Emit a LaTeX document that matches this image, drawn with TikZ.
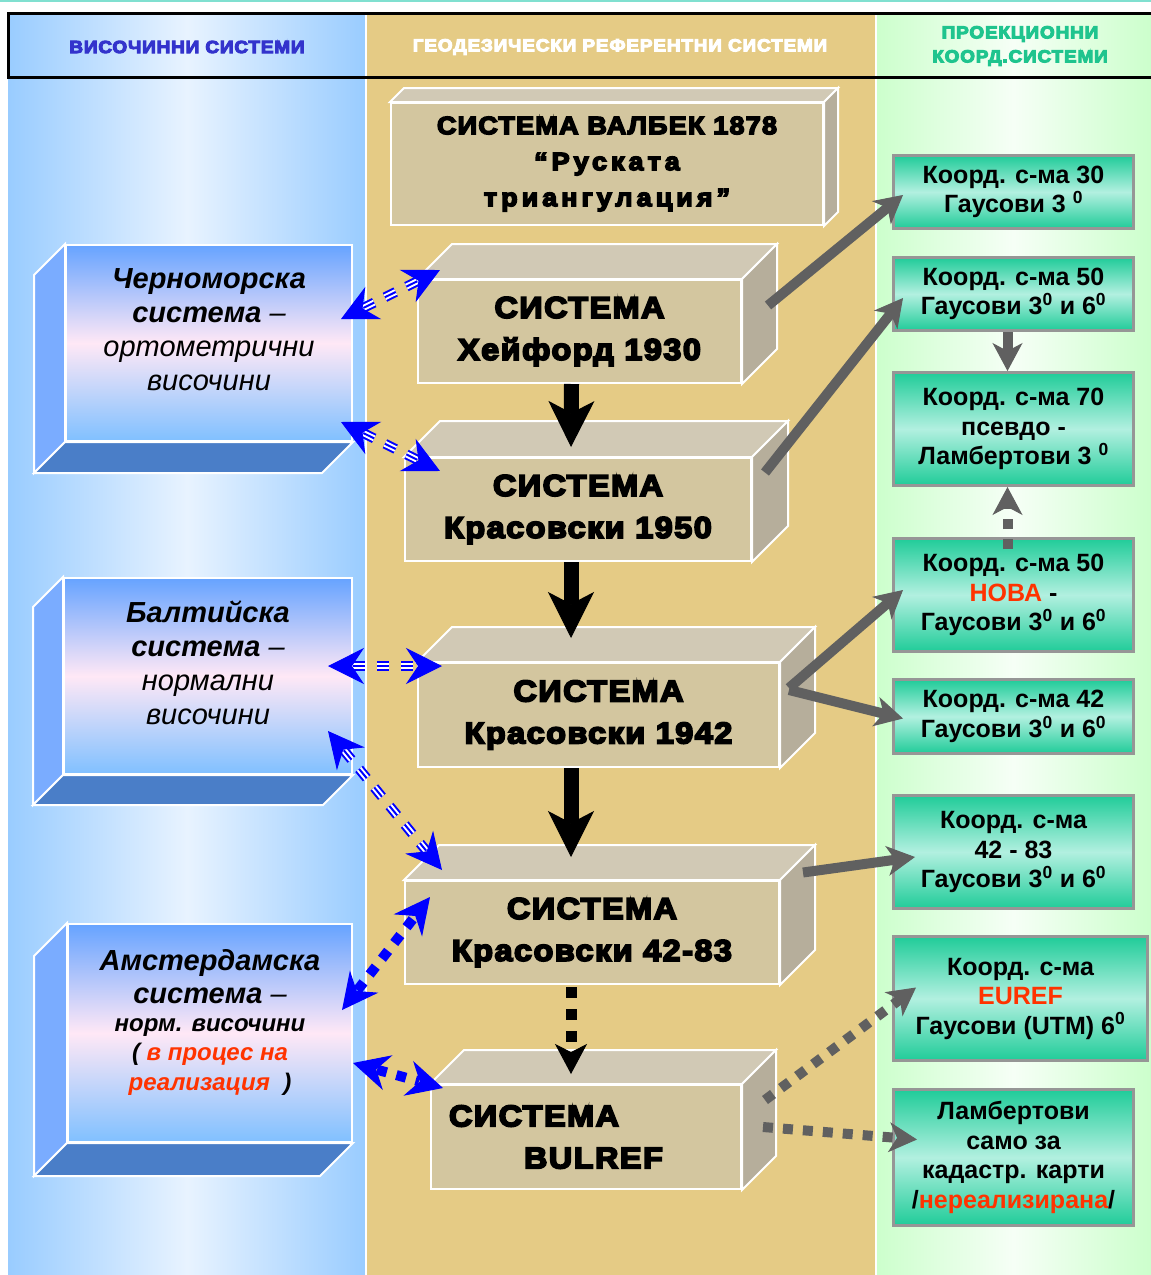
\documentclass[tikz,border=0pt]{standalone}
\usepackage{fontspec}
\setmainfont{Liberation Sans}
\newfontfamily\heavyfont[FakeBold=6,FakeStretch=1.08,LetterSpace=5]{Liberation Sans Bold}
\usetikzlibrary{arrows.meta,positioning,decorations.markings}

\definecolor{colblue}{RGB}{153,204,255}
\definecolor{colbluemid}{RGB}{232,243,255}
\definecolor{coltan}{RGB}{229,203,133}
\definecolor{colgreen}{RGB}{204,255,204}
\definecolor{colgreenmid}{RGB}{246,255,246}
\definecolor{geofront}{RGB}{211,198,159}
\definecolor{geotop}{RGB}{209,201,181}
\definecolor{geoside}{RGB}{182,174,155}
\definecolor{hfront}{RGB}{102,163,255}
\definecolor{hmid}{RGB}{255,232,246}
\definecolor{hbottom}{RGB}{128,192,255}
\definecolor{hside}{RGB}{122,172,255}
\definecolor{hfloor}{RGB}{74,126,200}
\definecolor{projtop}{RGB}{32,204,153}
\definecolor{projmid}{RGB}{178,240,224}
\definecolor{projedge}{RGB}{150,150,150}
\definecolor{arrgray}{RGB}{96,96,96}
\definecolor{hot}{RGB}{255,51,0}
\definecolor{headblue}{RGB}{51,51,204}
\definecolor{headgreen}{RGB}{31,196,142}
\definecolor{topline}{RGB}{128,224,208}

\tikzset{
  geobox/.style={draw=white, line width=2pt, fill=geofront, inner sep=0pt, align=center,
    font=\heavyfont\fontsize{30}{42}\selectfont},
  hgtbox/.style={draw=white, line width=2pt, top color=hfront, bottom color=hbottom,
    middle color=hmid, inner sep=0pt, align=center, font=\itshape\fontsize{29}{34}\selectfont},
  projbox/.style={draw=projedge, line width=3pt, top color=projtop, bottom color=projtop,
    middle color=projmid, minimum width=240pt, inner sep=0pt, align=center,
    font=\bfseries\fontsize{25}{29.5}\selectfont},
  headtext/.style={font=\heavyfont\fontsize{17.5}{24}\selectfont, align=center},
  % blue links between height and reference systems
  link tips/.style={postaction={decorate,decoration={markings,
    mark=at position 0 with {\arrowreversed[blue,solid,line width=1pt]{Stealth[length=36pt,width=36pt,inset=12pt]}},
    mark=at position 1 with {\arrow[blue,solid,line width=1pt]{Stealth[length=36pt,width=36pt,inset=12pt]}}}}},
  striped link/.style={draw=blue, line width=10pt, dash pattern=on 12pt off 12pt,
    shorten <=25pt, shorten >=25pt,
    postaction={draw=white, line width=6pt}, postaction={draw=blue, line width=2pt}, link tips},
  dotted link/.style={draw=blue, line width=10pt, dash pattern=on 10pt off 10pt,
    shorten <=25pt, shorten >=25pt, link tips},
  % arrows
  chainlink/.style={line width=15pt, -{Stealth[length=46pt,width=46pt,inset=12pt,line width=1pt]}},
  chaindotted/.style={line width=11pt, dash pattern=on 11pt off 11pt,
    -{Stealth[length=30pt,width=32pt,inset=8pt,line width=1pt]}},
  projlink/.style={draw=arrgray, line width=10pt, -{Stealth[length=28pt,width=30pt,inset=8pt,line width=1pt]}},
  projdotted/.style={projlink, dash pattern=on 10pt off 10pt},
}

\newcommand{\geofaces}[2]{%
  \filldraw[fill=geotop, draw=white, line width=2pt]
    (#1.north west) -- ++(#2,-#2) -- ([xshift=#2pt,yshift=#2pt]#1.north east) -- (#1.north east) -- cycle;
  \filldraw[fill=geoside, draw=white, line width=2pt]
    (#1.north east) -- ([xshift=#2pt,yshift=#2pt]#1.north east)
    -- ([xshift=#2pt,yshift=#2pt]#1.south east) -- (#1.south east) -- cycle;
}
\newcommand{\hgtfaces}[2]{%
  \filldraw[fill=hside, draw=white, line width=2pt]
    (#1.north west) -- ++(-#2,#2) -- ([xshift=-#2pt,yshift=-#2pt]#1.south west) -- (#1.south west) -- cycle;
  \filldraw[fill=hfloor, draw=white, line width=2pt]
    (#1.south west) -- ([xshift=-#2pt,yshift=-#2pt]#1.south west)
    -- ([xshift=-#2pt,yshift=-#2pt]#1.south east) -- (#1.south east) -- cycle;
}

\begin{document}
\begin{tikzpicture}[x=1pt, y=-1pt]
\useasboundingbox (0,0) rectangle (1151,1275);

% columns
\fill[white] (0,0) rectangle (1151,1275);
\draw[topline, line width=1.5pt] (0,0.8) -- (1151,0.8);
\fill[left color=colblue, right color=colblue, middle color=colbluemid] (8,13) rectangle (366,1275);
\fill[coltan] (366,13) rectangle (876,1275);
\fill[left color=colgreen, right color=colgreen, middle color=colgreenmid] (876,13) rectangle (1151,1275);
\draw[white, line width=2pt] (366,13) -- (366,1275) (876,13) -- (876,1275);
\draw[black, line width=3pt] (8,13) rectangle (1160,77);

\node[headtext, text=headblue] (hdheight) at (187,47) {ВИСОЧИННИ СИСТЕМИ};
\node[headtext, text=white] (hdgeo) at (620,47) {ГЕОДЕЗИЧЕСКИ РЕФЕРЕНТНИ СИСТЕМИ};
\node[headtext, text=headgreen] (hdproj) at (1020,46) {ПРОЕКЦИОННИ\\КООРД.СИСТЕМИ};

% reference systems
\node[geobox, minimum width=432pt, minimum height=122pt, font=\heavyfont\fontsize{25}{36}\selectfont]
  (valbek) at (607,164) {СИСТЕМА ВАЛБЕК 1878\\{\addfontfeature{LetterSpace=16}“Руската}\\{\addfontfeature{LetterSpace=16}триангулация”}};
\node[geobox, minimum width=323pt, minimum height=103pt] (hey) at (579.5,331.5) {СИСТЕМА\\Хейфорд 1930};
\node[geobox, minimum width=346pt, minimum height=103pt] (kr50) at (578,509.5) {СИСТЕМА\\Красовски 1950};
\node[geobox, minimum width=361pt, minimum height=104pt] (kr42) at (598.5,715) {СИСТЕМА\\Красовски 1942};
\node[geobox, minimum width=374pt, minimum height=103pt] (kr4283) at (592,932.5) {СИСТЕМА\\Красовски 42-83};
\node[geobox, minimum width=310pt, minimum height=104pt, text width=274pt, align=left]
  (bulref) at (586,1137) {СИСТЕМА\\\hspace*{75pt}BULREF};
\geofaces{valbek}{14}
\geofaces{hey}{35}
\geofaces{kr50}{36}
\geofaces{kr42}{35}
\geofaces{kr4283}{35}
\geofaces{bulref}{34}

% height systems
\node[hgtbox, minimum width=286pt, minimum height=196pt] (chern) at (209,343)
  {{\bfseries Черноморска}\\{\bfseries система} –\\ортометрични\\височини\\[-8pt]\mbox{}};
\node[hgtbox, minimum width=288pt, minimum height=196pt] (balt) at (208,676)
  {{\bfseries Балтийска}\\{\bfseries система} –\\нормални\\височини\\[-8pt]\mbox{}};
\node[hgtbox, minimum width=284pt, minimum height=218pt] (ams) at (210,1033)
  {{\bfseries Амстердамска}\\[-1pt]{\bfseries система} –\\[-6pt]
   {\bfseries\fontsize{24}{29}\selectfont норм. височини}\\[-5pt]
   {\bfseries\fontsize{24}{29}\selectfont ( \textcolor{hot}{в процес на}}\\[-4pt]
   {\bfseries\fontsize{24}{29}\selectfont \textcolor{hot}{реализация}\ \ )}\\[-8pt]\mbox{}};
\hgtfaces{chern}{31}
\hgtfaces{balt}{30}
\hgtfaces{ams}{33}

% projection systems
\node[projbox, minimum height=73pt] (g30) at (1013.5,192) {Коорд. с-ма 30\\Гаусови 3 \textsuperscript{0}};
\node[projbox, minimum height=73pt, below=26pt of g30] (g50) {Коорд. с-ма 50\\Гаусови 3\textsuperscript{0} и 6\textsuperscript{0}};
\node[projbox, minimum height=113pt, below=39pt of g50] (g70) {Коорд. с-ма 70\\псевдо -\\Ламбертови 3 \textsuperscript{0}};
\node[projbox, minimum height=113pt, below=50pt of g70] (g50n) {Коорд. с-ма 50\\\textcolor{hot}{НОВА} -\\Гаусови 3\textsuperscript{0} и 6\textsuperscript{0}};
\node[projbox, minimum height=74pt, below=25pt of g50n] (g42) {Коорд. с-ма 42\\Гаусови 3\textsuperscript{0} и 6\textsuperscript{0}};
\node[projbox, minimum height=113pt, below=39pt of g42] (g4283) {Коорд. с-ма\\42 - 83\\Гаусови 3\textsuperscript{0} и 6\textsuperscript{0}};
\node[projbox, minimum width=254pt, minimum height=124pt, below=25pt of g4283, xshift=7pt] (geuref) {Коорд. с-ма\\\textcolor{hot}{EUREF}\\Гаусови (UTM) 6\textsuperscript{0}};
\node[projbox, minimum height=136pt, below=26pt of geuref, xshift=-7pt] (glamb) {Ламбертови\\само за\\кадастр. карти\\/\textcolor{hot}{нереализирана}/};

% chain of reference systems
\draw[chainlink] ([xshift=-8pt]hey.south) -- ([xshift=-7pt,yshift=10pt]kr50.north);
\draw[chainlink] ([xshift=-7pt]kr50.south) -- ([xshift=-27.5pt,yshift=24pt]kr42.north);
\draw[chainlink] ([xshift=-27.5pt]kr42.south) -- ([xshift=-21pt,yshift=23pt]kr4283.north);
\draw[chaindotted] ([xshift=-21pt,yshift=-2pt]kr4283.south) -- ([xshift=-15pt,yshift=10pt]bulref.north);

% height <-> reference
\draw[striped link] ([xshift=-12pt,yshift=24pt]chern.east) -- ([xshift=23pt,yshift=9pt]hey.north west);
\draw[striped link] ([xshift=-12pt,yshift=20pt]chern.south east) -- ([xshift=36pt,yshift=-14pt]kr50.north west);
\draw[striped link] ([xshift=-25pt,yshift=10pt]balt.east) -- ([xshift=25pt,yshift=-4pt]kr42.north west);
\draw[striped link] ([xshift=-25pt,yshift=-55pt]balt.east) -- ([xshift=38pt,yshift=10pt]kr4283.north west);
\draw[dotted link] ([xshift=-11pt,yshift=23pt]ams.east) -- ([xshift=26pt,yshift=-17pt]kr4283.north west);
\draw[dotted link] ([yshift=-30pt]ams.east) -- ([xshift=13pt,yshift=-4pt]bulref.north west);

% reference -> projection
\draw[projlink] ([xshift=26pt,yshift=26pt]hey.east) -- ([xshift=11pt,yshift=-3pt]g30.west);
\draw[projlink] ([xshift=13pt,yshift=37pt]kr50.east) -- ([xshift=11pt,yshift=-4pt]g50.west);
\draw[projlink] ([xshift=9pt,yshift=27pt]kr42.east) -- ([xshift=11pt,yshift=5pt]g50n.west);
\draw[projlink] ([xshift=9pt,yshift=25pt]kr42.east) -- ([xshift=11pt,yshift=-2pt]g42.west);
\draw[projlink] ([xshift=23pt,yshift=60pt]kr4283.east) -- ([xshift=23pt,yshift=-5pt]g4283.west);
\draw[projdotted] ([xshift=23pt,yshift=37pt]bulref.east) -- ([xshift=24pt,yshift=11pt]geuref.west);
\draw[projdotted] ([xshift=21pt,yshift=10pt]bulref.east) -- ([xshift=25pt,yshift=18pt]glamb.west);
\draw[projlink] ([xshift=-6pt]g50.south) -- ([xshift=-6pt]g70.north);
\draw[projdotted] ([xshift=-6pt,yshift=-12pt]g50n.north) -- ([xshift=-6pt]g70.south);
\end{tikzpicture}
\end{document}
